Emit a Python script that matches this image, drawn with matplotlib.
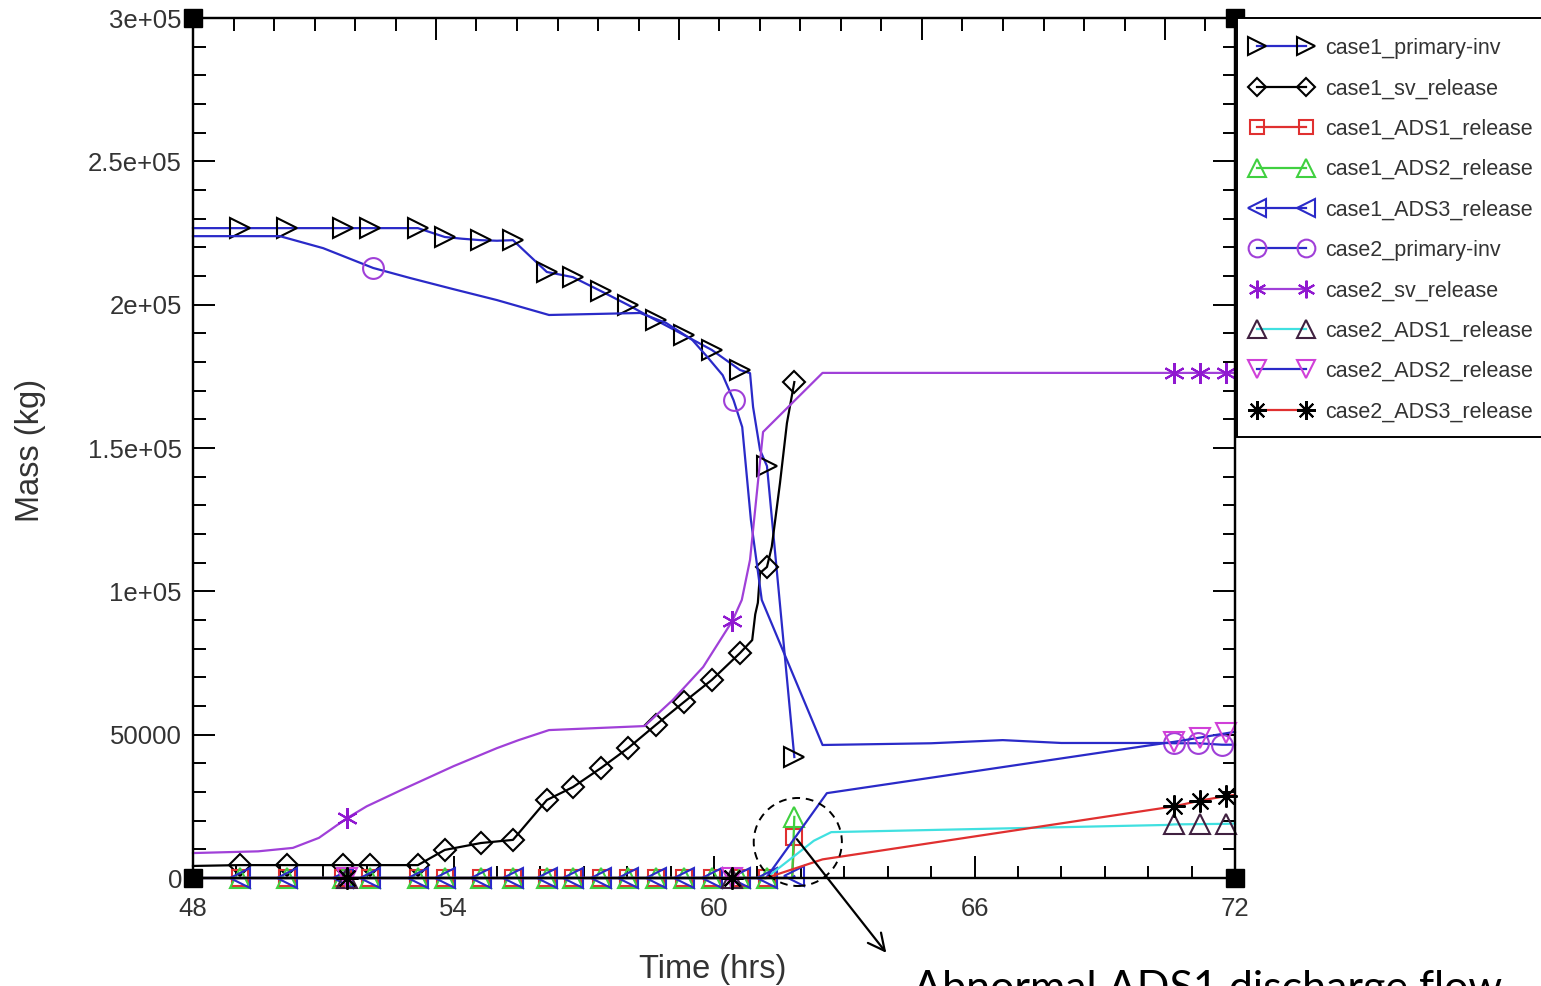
import matplotlib
matplotlib.use("Agg")
import matplotlib.pyplot as plt
from matplotlib.patches import Ellipse, Rectangle
from matplotlib.ticker import MultipleLocator, FixedLocator, FixedFormatter

# ---------------- data ----------------
c1_prim_t = [48.0, 49.08, 50.17, 51.45, 52.08, 53.18, 53.8, 54.2, 54.63, 55.0, 55.37, 56.15, 56.75,
             57.4, 58.02, 58.66, 59.31, 59.95, 60.6, 60.83, 60.9, 61.06, 61.22, 61.85]
c1_prim_m = [226700, 226700, 226700, 226700, 226700, 226700, 223600, 223000, 222500, 222300, 222500,
             211400, 209600, 204700, 199900, 194600, 189400, 184200, 177200, 176100, 164300, 149300,
             143700, 42200]

c1_sv_t = [48.0, 49.08, 50.17, 51.45, 52.08, 53.18, 53.8, 54.63, 55.37, 56.15, 56.75, 57.4, 58.02,
           58.66, 59.31, 59.95, 60.6, 60.88, 60.95, 61.01, 61.06, 61.22, 61.33, 61.52, 61.68, 61.85]
c1_sv_m = [4200, 4500, 4500, 4500, 4500, 4500, 9800, 12200, 13300, 27200, 31700, 38400, 45300,
           53400, 61400, 69100, 78500, 83000, 92000, 96000, 106400, 108500, 115500, 137800, 158700,
           173000]

c1_ads_t = [48.0, 49.08, 50.17, 51.45, 52.08, 53.18, 53.8, 54.63, 55.37, 56.15, 56.75, 57.4, 58.02,
            58.66, 59.31, 59.95, 60.6, 61.22, 61.8, 61.85]
c1_ads1_m = [0] * 19 + [14300]
c1_ads2_m = [0] * 19 + [21300]
c1_ads3_m = [0] * 19 + [600]

c2_prim_t = [48.0, 50.0, 51.0, 52.15, 53.0, 54.0, 55.0, 56.2, 58.3, 58.9, 59.5, 59.85, 60.2, 60.45,
             60.65, 60.85, 61.1, 62.5, 65.0, 66.65, 68.0, 70.4, 70.6, 71.15, 71.7, 72.0]
c2_prim_m = [223900, 223900, 219700, 212800, 209300, 205400, 201600, 196400, 197100, 193600, 187700,
             181700, 175400, 166700, 157300, 124900, 97000, 46400, 47000, 48100, 47100, 47100, 47000,
             47000, 46500, 46500]

c2_sv_t = [48.0, 49.5, 50.3, 50.9, 51.55, 52.0, 52.8, 54.0, 55.0, 55.5, 56.2, 58.4, 59.05, 59.75,
           60.42, 60.64, 60.83, 61.13, 62.5, 70.6, 71.2, 71.8, 72.0]
c2_sv_m = [8700, 9300, 10500, 14000, 20900, 25000, 30700, 39000, 45300, 48100, 51600, 53000, 62100,
           73600, 89600, 97000, 111000, 155600, 176200, 176200, 176200, 176200, 176200]

c2_ads1_t = [48.0, 51.55, 60.42, 61.2, 62.3, 62.7, 70.4, 70.6, 71.2, 71.8, 72.0]
c2_ads1_m = [0, 0, 0, 0, 13000, 16000, 18500, 18700, 18800, 18900, 19000]

c2_ads2_t = [48.0, 51.55, 60.42, 61.2, 62.6, 70.4, 70.6, 71.2, 71.8, 72.0]
c2_ads2_m = [0, 0, 0, 0, 29600, 47100, 47500, 49000, 50500, 51000]

c2_ads3_t = [48.0, 51.55, 60.42, 61.2, 62.5, 70.6, 71.2, 71.8, 72.0]
c2_ads3_m = [0, 0, 0, 0, 6500, 25000, 27000, 28600, 29000]

labels = ["case1_primary-inv", "case1_sv_release", "case1_ADS1_release", "case1_ADS2_release",
          "case1_ADS3_release", "case2_primary-inv", "case2_sv_release", "case2_ADS1_release",
          "case2_ADS2_release", "case2_ADS3_release"]

y_ticks = [0, 50000, 100000, 150000, 200000, 250000, 300000]
y_ticklabels = ["0", "50000", "1e+05", "1.5e+05", "2e+05", "2.5e+05", "3e+05"]
x_ticks = [48, 54, 60, 66, 72]
x_ticklabels = ["48", "54", "60", "66", "72"]

# ---------------- style ----------------
plt.rcParams["font.family"] = ["Liberation Sans", "DejaVu Sans"]

W, H = 1541, 986
fig = plt.figure(figsize=(W / 100, H / 100), dpi=100)
ax = fig.add_axes([193 / W, 1 - 878 / H, (1235 - 193) / W, (878 - 18) / H])

BLUE = "#2a2ac8"
PURP = "#a040d8"
RED = "#e03030"
GREEN = "#40d040"
CYAN = "#40e0e0"
TXT = "#333333"

lw = 1.6
mew = 1.5

def idx(tlist, keep):
    return [i for i, t in enumerate(tlist) if t in keep]

c1_mk = [49.08, 50.17, 51.45, 52.08, 53.18, 53.8, 54.63, 55.37, 56.15, 56.75, 57.4, 58.02,
         58.66, 59.31, 59.95, 60.6, 61.22, 61.85]
c2_mk = [51.55, 52.15, 60.42, 60.45, 70.6, 71.15, 71.2, 71.7, 71.8]

series = [
    (c1_prim_t, c1_prim_m, BLUE, ">", "black", 15, c1_mk),
    (c1_sv_t, c1_sv_m, "black", "D", "black", 11, c1_mk),
    (c1_ads_t, c1_ads1_m, RED, "s", RED, 12, c1_mk),
    (c1_ads_t, c1_ads2_m, GREEN, "^", GREEN, 15, c1_mk),
    (c1_ads_t, c1_ads3_m, BLUE, "<", BLUE, 15, c1_mk),
    (c2_prim_t, c2_prim_m, BLUE, "o", PURP, 15, c2_mk),
    (c2_sv_t, c2_sv_m, PURP, (6, 2, 0), "#9018d0", 15, c2_mk),
    (c2_ads1_t, c2_ads1_m, CYAN, "^", "#402040", 15, c2_mk),
    (c2_ads2_t, c2_ads2_m, BLUE, "v", "#d040d8", 15, c2_mk),
    (c2_ads3_t, c2_ads3_m, RED, (8, 2, 0), "black", 16, c2_mk),
]

handles = []
for (t, m, lc, mk, mc, ms, keep), lab in zip(series, labels):
    h, = ax.plot(t, m, color=lc, lw=lw, marker=mk, markevery=idx(t, keep),
                 markerfacecolor="none", markeredgecolor=mc, markersize=ms,
                 markeredgewidth=mew, label=lab, clip_on=False, zorder=3)
    handles.append(h)

ax.set_xlim(48, 72)
ax.set_ylim(0, 300000)

ax.xaxis.set_major_locator(FixedLocator(x_ticks))
ax.xaxis.set_major_formatter(FixedFormatter(x_ticklabels))
ax.xaxis.set_minor_locator(MultipleLocator(1))
ax.yaxis.set_major_locator(FixedLocator(y_ticks))
ax.yaxis.set_major_formatter(FixedFormatter(y_ticklabels))
ax.yaxis.set_minor_locator(MultipleLocator(10000))

ax.tick_params(axis="both", which="major", direction="in", length=16, width=1.4,
               labelsize=18.5, colors="black", labelcolor=TXT)
ax.tick_params(axis="both", which="minor", direction="in", length=9, width=1.4)
ax.tick_params(axis="x", which="major", pad=13.5)
ax.tick_params(axis="y", which="major", pad=8)
ax.tick_params(axis="y", which="both", right=True)

# top axis uses its own tick spacing
axt = ax.twiny()
axt.set_xlim(0, (1235 - 193) / 40.5)
axt.xaxis.set_major_locator(MultipleLocator(6))
axt.xaxis.set_minor_locator(MultipleLocator(1))
axt.tick_params(axis="x", which="major", direction="in", length=16, width=1.4, labeltop=False)
axt.tick_params(axis="x", which="minor", direction="in", length=9, width=1.4)

for a in (ax, axt):
    for s in a.spines.values():
        s.set_linewidth(1.6)

# corner squares
ax.plot([48, 72, 48, 72], [0, 0, 300000, 300000], ls="none", marker="s", ms=13,
        color="black", clip_on=False, zorder=5)

ax.set_xlabel("Time (hrs)", fontsize=23.5, color=TXT)
ax.set_ylabel("Mass (kg)", fontsize=23.5, color=TXT)
ax.xaxis.set_label_coords((713 - 193) / 1042, (878 - 954) / 860)
ax.yaxis.set_label_coords((46 - 193) / 1042, (878 - 450) / 860)

# legend frame drawn separately, entries placed without frame
fig.patches.append(Rectangle((1237 / W, 1 - 437 / H), (1560 - 1237) / W, (437 - 18) / H,
                             transform=fig.transFigure, facecolor="white", edgecolor="black",
                             linewidth=1.4, zorder=0))
leg = fig.legend(handles=handles, loc="upper left", bbox_to_anchor=(1251 / W, 1 - 38 / H),
                 borderaxespad=0, frameon=False, fontsize=15.5, numpoints=2,
                 handlelength=2.84, handletextpad=0.6, labelspacing=0.9, borderpad=0,
                 markerscale=0.85)
for txt in leg.get_texts():
    txt.set_color(TXT)

# annotation
circ = Ellipse((61.93, 12560), width=2.03, height=30700, fill=False, ls=(0, (4, 3)),
               lw=1.4, edgecolor="black", clip_on=False, zorder=6)
ax.add_patch(circ)
ax.annotate("", xy=(888, H - 955), xycoords="figure pixels", xytext=(61.87, 14300),
            textcoords="data",
            arrowprops=dict(arrowstyle="->", lw=1.6, color="black", mutation_scale=30),
            annotation_clip=False)
fig.text(913 / W, 1 - 970 / H, "Abnormal ADS1 discharge flow", fontsize=31,
         family=["Lato", "DejaVu Sans"], va="top", ha="left", color="black")

fig.savefig("out.png", dpi=100)
